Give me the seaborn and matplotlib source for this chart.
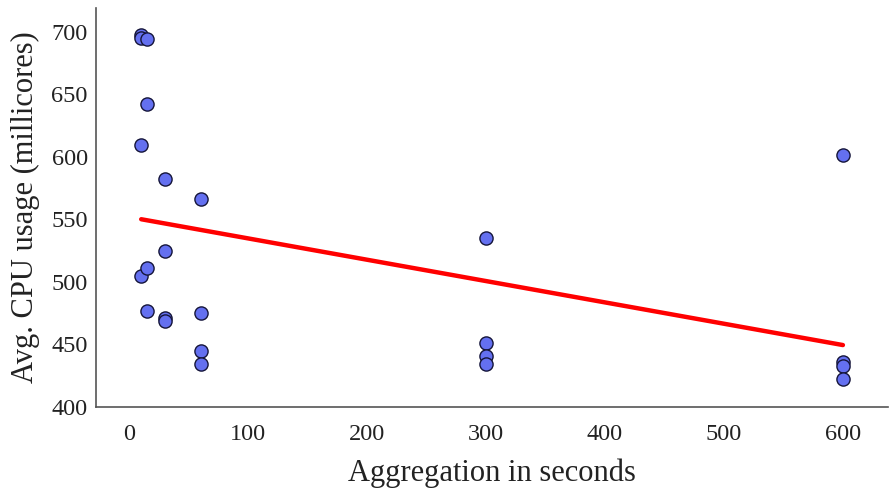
import matplotlib
matplotlib.use("Agg")
import matplotlib.pyplot as plt
import seaborn as sns
import pandas as pd

# Aggregation window (s) and measured average CPU usage (millicores)
agg_seconds = [10, 10, 10, 10,
               15, 15, 15, 15,
               30, 30, 30, 30,
               60, 60, 60, 60,
               300, 300, 300, 300,
               600, 600, 600, 600]
cpu_millicores = [697, 695, 609, 505,
                  694, 642, 511, 477,
                  582, 525, 471, 469,
                  566, 475, 445, 434,
                  535, 451, 441, 434,
                  601, 436, 433, 422]

df = pd.DataFrame({"agg": agg_seconds, "cpu": cpu_millicores})

sns.set_style("white")
plt.rcParams["font.family"] = ["Liberation Serif", "DejaVu Serif"]

fig = plt.figure(figsize=(8.89, 4.88), dpi=100)
ax = fig.add_axes([0.108, 0.166, 0.891, 0.818])

sns.regplot(
    data=df, x="agg", y="cpu", ci=None, ax=ax,
    scatter_kws={"s": 90, "color": "#6470F0", "edgecolor": "#15153a",
                 "linewidths": 1.0, "alpha": 1},
    line_kws={"color": "#ff0000", "linewidth": 3.2},
)

ax.set_xlim(-28, 638)
ax.set_ylim(400, 719)
ax.set_xticks([0, 100, 200, 300, 400, 500, 600])
ax.set_yticks([400, 450, 500, 550, 600, 650, 700])
ax.tick_params(labelsize=17.5, colors="#222222", length=0)
ax.tick_params(axis="x", pad=12)
ax.tick_params(axis="y", pad=6)
ax.set_xlabel("Aggregation in seconds", fontsize=22, color="#222222", labelpad=10)
ax.set_ylabel("Avg. CPU usage (millicores)", fontsize=22, color="#222222", labelpad=8)

sns.despine(ax=ax)
for s in ["left", "bottom"]:
    ax.spines[s].set_color("#555555")
    ax.spines[s].set_linewidth(1.2)

fig.savefig("out.png", dpi=100)
